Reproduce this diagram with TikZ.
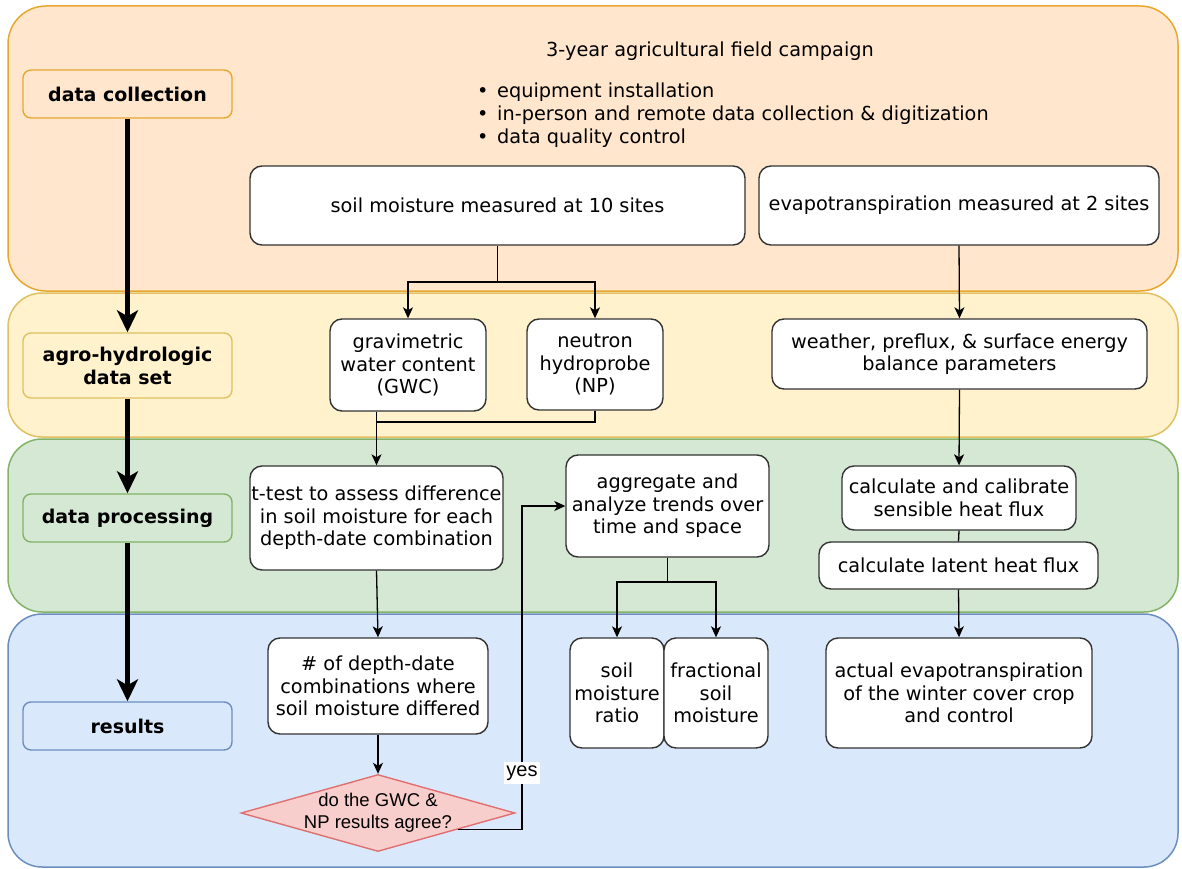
\documentclass[tikz,border=0pt]{standalone}
\usepackage{fontspec}
\setmainfont{DejaVu Sans}
\newfontfamily\helv{Liberation Sans}
\usetikzlibrary{shapes.geometric,arrows.meta,calc}
\definecolor{orfill}{HTML}{FFE6CC}\definecolor{ordraw}{HTML}{E6A82E}
\definecolor{yefill}{HTML}{FFF2CC}\definecolor{yedraw}{HTML}{E0C060}
\definecolor{grfill}{HTML}{D5E8D4}\definecolor{grdraw}{HTML}{82B366}
\definecolor{blfill}{HTML}{DAE8FC}\definecolor{bldraw}{HTML}{6C8EBF}
\definecolor{rdfill}{HTML}{F8CECC}\definecolor{rddraw}{HTML}{E07070}
\definecolor{boxline}{HTML}{333333}
\tikzset{
  lane/.style={line width=1.5pt, rounded corners=34pt},
  lbl/.style={rounded corners=8pt, line width=1.4pt, inner sep=0pt, align=center,
    minimum width=209pt, font=\fontsize{19}{23}\selectfont\bfseries},
  box/.style={draw=boxline, fill=white, rounded corners=12pt, line width=1.4pt,
    inner sep=0pt, align=center, font=\fontsize{19.3}{22.5}\selectfont},
  conn/.style={line width=1.3pt, draw=black},
  arr/.style={conn, -{Stealth[length=11pt,width=10pt,inset=3pt]}},
  big/.style={line width=4.5pt, -{Stealth[length=22pt,width=21pt,inset=6pt]}},
  txt/.style={inner sep=0pt, font=\fontsize{19.3}{23}\selectfont, text height=14pt, text depth=4pt}
}
\begin{document}
\begin{tikzpicture}[x=1pt,y=-1pt]
\useasboundingbox (0,0) rectangle (1182,869);
% lanes
\draw[lane, fill=orfill, draw=ordraw, rounded corners=38pt] (8,6) rectangle (1178,291);
\draw[lane, fill=yefill, draw=yedraw] (8,293) rectangle (1178,437);
\draw[lane, fill=grfill, draw=grdraw] (8,439) rectangle (1178,612);
\draw[lane, fill=blfill, draw=bldraw] (8,614) rectangle (1178,867);
% left labels
\node[lbl, fill=orfill, draw=ordraw, minimum height=48pt] (dc) at (127.5,94) {data collection};
\node[lbl, fill=yefill, draw=yedraw, minimum height=65pt] (ag) at (127.5,365.5) {agro-hydrologic\\data set};
\node[lbl, fill=grfill, draw=grdraw, minimum height=48pt] (dp) at (127.5,518) {data processing};
\node[lbl, fill=blfill, draw=bldraw, minimum height=48pt] (rs) at (127.5,726) {results};
\draw[big] (dc.south) -- (ag.north);
\draw[big] (ag.south) -- (dp.north);
\draw[big] (dp.south) -- (rs.north);
% campaign text
\node[txt] (ttl) at (710,52) {3-year agricultural field campaign};
\node[txt, anchor=west] (b1) at (477,93) {\makebox[20pt][l]{•}equipment installation};
\node[txt, anchor=west] (b2) at (477,116) {\makebox[20pt][l]{•}in-person and remote data collection \& digitization};
\node[txt, anchor=west] (b3) at (477,139) {\makebox[20pt][l]{•}data quality control};
% boxes
\node[box, minimum width=495pt, minimum height=79pt] (sm) at (497.5,205.5) {soil moisture measured at 10 sites};
\node[box, minimum width=400pt, minimum height=79pt] (et) at (959,205.5) {evapotranspiration measured at 2 sites};
\node[box, minimum width=156pt, minimum height=92pt] (gwc) at (408,365) {gravimetric\\water content\\(GWC)};
\node[box, minimum width=136pt, minimum height=91pt] (np) at (595,364.5) {neutron\\hydroprobe\\(NP)};
\node[box, minimum width=375pt, minimum height=70pt] (wx) at (959.5,354) {weather, preflux, \& surface energy\\balance parameters};
\node[box, minimum width=253pt, minimum height=104pt] (tt) at (376.5,518) {t-test to assess difference\\in soil moisture for each\\depth-date combination};
\node[box, minimum width=203pt, minimum height=102pt] (agg) at (667.5,506) {aggregate and\\analyze trends over\\time and space};
\node[box, minimum width=234pt, minimum height=64pt] (cc) at (959,498) {calculate and calibrate\\sensible heat flux};
\node[box, minimum width=279pt, minimum height=47pt] (lh) at (958.5,565.5) {calculate latent heat flux};
\node[box, minimum width=220pt, minimum height=96pt] (nm) at (378,686) {\# of depth-date\\combinations where\\soil moisture differed};
\node[box, minimum width=94pt, minimum height=110pt] (smr) at (617,693) {soil\\moisture\\ratio};
\node[box, minimum width=104pt, minimum height=110pt] (fsm) at (716,693) {fractional\\soil\\moisture};
\node[box, minimum width=266pt, minimum height=110pt] (ae) at (959,693) {actual evapotranspiration\\of the winter cover crop\\and control};
\node[diamond, draw=rddraw, fill=rdfill, line width=1.4pt, inner sep=0pt, minimum width=274pt, minimum height=77pt] (dm) at (378,813) {};
\node[align=center, inner sep=0pt, font=\helv\fontsize{18.5}{22}\selectfont] (dmt) at (dm.center) {do the GWC \&\\NP results agree?};
% connectors
\coordinate (j1) at (497.5,282);
\draw[conn] (sm.south) -- (j1);
\draw[arr] (j1) -| (gwc.north);
\draw[arr] (j1) -| (np.north);
\draw[arr] (et.south) -- (wx.north);
\coordinate (j2) at (376.5,422);
\draw[conn] (gwc.south -| j2) -- (j2);
\draw[conn] (np.south) |- (j2);
\draw[arr] (j2) -- (tt.north);
\draw[arr] (wx.south) -- (cc.north);
\draw[conn] (cc.south) -- (lh.north);
\draw[arr] (lh.south) -- (ae.north);
\draw[arr] (tt.south) -- (nm.north);
\draw[arr] (nm.south) -- (dm.north);
\coordinate (j3) at (667.5,582);
\draw[conn] (agg.south) -- (j3);
\draw[arr] (j3) -| (smr.north);
\draw[arr] (j3) -| (fsm.north);
\coordinate (ds) at ($(dm.east)!0.42!(dm.south)$);
\coordinate (yx) at (522,506);
\draw[arr] (ds) -| (yx) -- (agg.west);
\node[fill=white, inner xsep=2pt, inner ysep=4pt, font=\helv\fontsize{20}{22}\selectfont] (yes) at (522,773) {yes};
\end{tikzpicture}
\end{document}
